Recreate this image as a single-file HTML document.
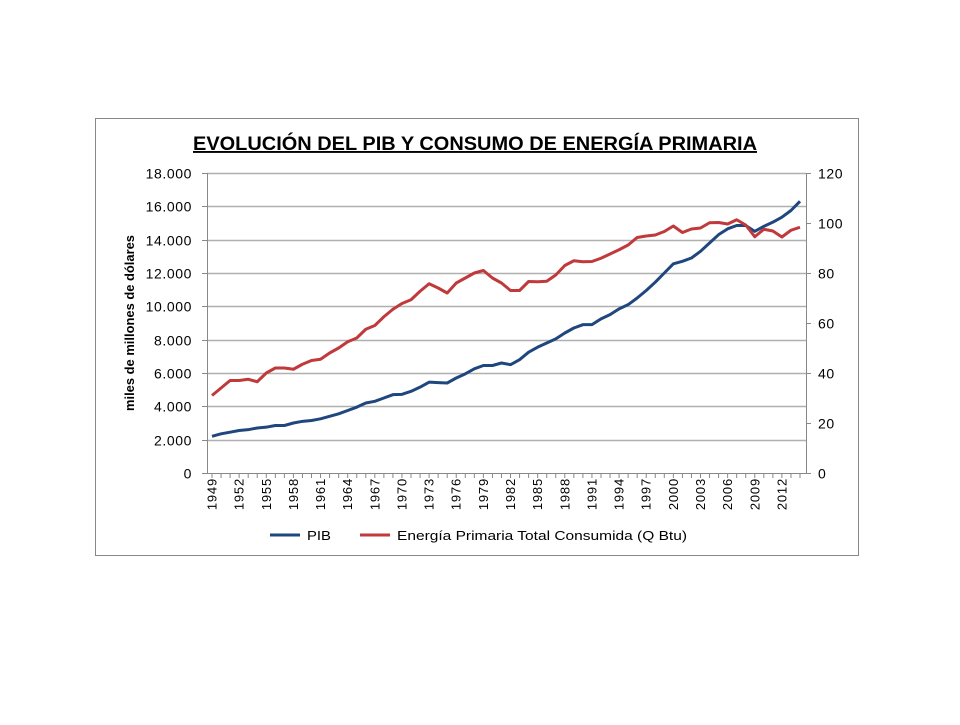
<!DOCTYPE html>
<html><head><meta charset="utf-8"><style>
body{margin:0;background:#fff;font-family:"Liberation Sans",sans-serif}
</style></head><body>
<svg width="960" height="720" id="svg" font-family="Liberation Sans, sans-serif">
<rect x="95.5" y="118.5" width="763" height="437" fill="#fff" stroke="#888"/>
<text x="193" y="150" textLength="564" lengthAdjust="spacingAndGlyphs" font-size="19" font-weight="bold" text-decoration="underline">EVOLUCIÓN DEL PIB Y CONSUMO DE ENERGÍA PRIMARIA</text>
<text transform="translate(134,323) rotate(-90)" text-anchor="middle" font-size="13" font-weight="bold" textLength="176" lengthAdjust="spacingAndGlyphs">miles de millones de dólares</text>
<g id="grid"></g><g id="axes"></g><g id="series"></g>
<g>
<line x1="270" y1="535" x2="300" y2="535" stroke="#1f477d" stroke-width="3"/>
<text x="307" y="540" font-size="13" textLength="24" lengthAdjust="spacingAndGlyphs">PIB</text>
<line x1="360" y1="535" x2="390" y2="535" stroke="#c0393b" stroke-width="3"/>
<text x="397" y="540" font-size="13" textLength="290" lengthAdjust="spacingAndGlyphs">Energía Primaria Total Consumida (Q Btu)</text>
</g>
</svg>
<script>
const years=[];for(let y=1949;y<=2014;y++)years.push(y);
const pib=[2200,2350,2450,2550,2600,2700,2750,2850,2850,3000,3100,3150,3250,3400,3550,3750,3950,4200,4300,4500,4700,4720,4900,5150,5450,5420,5400,5700,5950,6250,6450,6450,6600,6500,6800,7250,7550,7800,8050,8400,8700,8900,8900,9250,9500,9850,10100,10500,10950,11450,12000,12550,12700,12900,13300,13800,14300,14650,14850,14850,14500,14800,15050,15350,15750,16300];
const energia=[31,34,37,37,37.5,36.5,40,42,42,41.5,43.5,45,45.5,48,50,52.5,54,57.5,59,62.5,65.5,67.8,69.3,72.7,75.7,74,72,76,78,80,81,78,76,73,73,76.6,76.5,76.7,79.2,83,84.9,84.5,84.6,85.9,87.6,89.3,91.2,94.2,94.8,95.2,96.6,98.8,96.2,97.6,98,100.1,100.2,99.6,101.3,99.2,94.5,97.5,96.8,94.4,97.1,98.3];
const leftTicks=[0,2000,4000,6000,8000,10000,12000,14000,16000,18000];
const leftLabels=["0","2.000","4.000","6.000","8.000","10.000","12.000","14.000","16.000","18.000"];
const rightTicks=[0,20,40,60,80,100,120];
const NS="http://www.w3.org/2000/svg";
const X0=207,X1=806,Y0=473,Y1=173;
const xs=i=>212+i*(800-212)/(years.length-1);
const yl=v=>Y0-(v/18000)*(Y0-Y1);
const yr=v=>Y0-(v/120)*(Y0-Y1);
function mk(t,a,p){const e=document.createElementNS(NS,t);for(const k in a)e.setAttribute(k,a[k]);p.appendChild(e);return e;}
const grid=document.getElementById('grid'),axes=document.getElementById('axes'),ser=document.getElementById('series');
leftTicks.forEach((v,i)=>{
 const y=Math.round(yl(v))+0.5;
 if(v>0){const g=mk('line',{x1:X0,x2:X1,y1:y,y2:y,stroke:'#b0b0b0','stroke-width':1.5},grid);
 
 }
 mk('line',{x1:X0-5,x2:X0,y1:y,y2:y,stroke:'#888'},axes);
 const t=mk('text',{x:192,y:y+5,'text-anchor':'end','font-size':14,'letter-spacing':0.6},axes);t.textContent=leftLabels[i];
 
 
});
rightTicks.forEach(v=>{
 const y=Math.round(yr(v))+0.5;
 mk('line',{x1:X1,x2:X1+5,y1:y,y2:y,stroke:'#888'},axes);
 const t=mk('text',{x:818,y:y+5,'font-size':14,'letter-spacing':0.6},axes);t.textContent=v;
 
 
});
mk('line',{x1:X0+.5,x2:X0+.5,y1:Y1,y2:Y0,stroke:'#888'},axes);
mk('line',{x1:X1+.5,x2:X1+.5,y1:Y1,y2:Y0,stroke:'#888'},axes);
mk('line',{x1:X0,x2:X1,y1:Y0+.5,y2:Y0+.5,stroke:'#888'},axes);
years.forEach((yv,i)=>{
 const x=xs(i);
 mk('line',{x1:x,x2:x,y1:Y0,y2:Y0+5,stroke:'#888'},axes);
 if((yv-1949)%3===0){
  const t=mk('text',{transform:`translate(${x+4.5},${Y0+5}) rotate(-90)`,'text-anchor':'end','font-size':13,'letter-spacing':0.8},axes);t.textContent=yv;
  
  
 }
});
const p1=mk('polyline',{points:pib.map((v,i)=>xs(i)+','+yl(v)).join(' '),fill:'none',stroke:'#1f477d','stroke-width':3,'stroke-linejoin':'round'},ser);


const p2=mk('polyline',{points:energia.map((v,i)=>xs(i)+','+yr(v)).join(' '),fill:'none',stroke:'#c0393b','stroke-width':3,'stroke-linejoin':'round'},ser);


</script>
</body></html>
